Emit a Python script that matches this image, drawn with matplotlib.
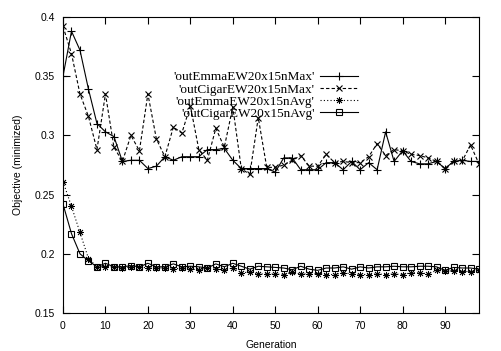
import numpy as np
import matplotlib
matplotlib.use("Agg")
import matplotlib.pyplot as plt

# generations sampled every 2 steps
generation = list(range(0, 100, 2))

emma_max = [0.350, 0.388, 0.372, 0.339, 0.310, 0.303, 0.299, 0.278, 0.279, 0.279,
            0.272, 0.274, 0.282, 0.279, 0.282, 0.282, 0.282, 0.288, 0.288, 0.289,
            0.279, 0.272, 0.272, 0.272, 0.272, 0.269, 0.281, 0.281, 0.271, 0.271,
            0.271, 0.277, 0.277, 0.271, 0.278, 0.271, 0.277, 0.271, 0.303, 0.278,
            0.287, 0.278, 0.276, 0.276, 0.278, 0.272, 0.278, 0.279, 0.278, 0.278]

cigar_max = [0.392, 0.369, 0.335, 0.316, 0.288, 0.335, 0.290, 0.278, 0.300, 0.287,
             0.335, 0.297, 0.282, 0.307, 0.302, 0.325, 0.288, 0.279, 0.306, 0.290,
             0.324, 0.272, 0.267, 0.315, 0.273, 0.273, 0.275, 0.279, 0.283, 0.274,
             0.274, 0.284, 0.277, 0.278, 0.277, 0.277, 0.282, 0.293, 0.283, 0.288,
             0.287, 0.284, 0.283, 0.281, 0.278, 0.272, 0.278, 0.278, 0.292, 0.276]

emma_avg = [0.261, 0.240, 0.218, 0.196, 0.189, 0.189, 0.189, 0.188, 0.189, 0.189,
            0.188, 0.188, 0.188, 0.187, 0.188, 0.187, 0.1865, 0.188, 0.187, 0.1865,
            0.188, 0.184, 0.1845, 0.183, 0.183, 0.183, 0.1825, 0.1845, 0.183, 0.183,
            0.183, 0.1825, 0.1825, 0.184, 0.183, 0.1825, 0.1825, 0.183, 0.1825, 0.183,
            0.1825, 0.184, 0.184, 0.183, 0.186, 0.1855, 0.1855, 0.185, 0.185, 0.186]

cigar_avg = [0.242, 0.217, 0.200, 0.194, 0.189, 0.192, 0.189, 0.189, 0.190, 0.189,
             0.192, 0.189, 0.189, 0.1915, 0.189, 0.1895, 0.189, 0.188, 0.1915, 0.189,
             0.192, 0.1895, 0.187, 0.1895, 0.189, 0.1885, 0.188, 0.1865, 0.1895, 0.187,
             0.186, 0.188, 0.188, 0.189, 0.187, 0.189, 0.188, 0.189, 0.189, 0.1895,
             0.189, 0.189, 0.1895, 0.1895, 0.189, 0.186, 0.1885, 0.188, 0.188, 0.187]

labels = ["'outEmmaEW20x15nMax'", "'outCigarEW20x15nMax'",
          "'outEmmaEW20x15nAvg'", "'outCigarEW20x15nAvg'"]

fig = plt.figure(figsize=(5.01, 3.51), dpi=100)
ax = fig.add_axes([63 / 501, 1 - 313 / 351, 416 / 501, 296 / 351])

lw = 0.8
ax.plot(generation, emma_max, color="black", lw=lw, ls="-", marker="+", ms=6, mew=0.8, label=labels[0])
ax.plot(generation, cigar_max, color="black", lw=lw, ls=(0, (3, 2)), marker="x", ms=4, mew=0.8, label=labels[1])
ax.plot(generation, emma_avg, color="black", lw=lw, ls=(0, (1, 2)), marker=(8, 2, 0), ms=5, mew=0.6, label=labels[2])
ax.plot(generation, cigar_avg, color="black", lw=lw, ls="-", marker="s", ms=4.5, mew=0.8, mfc="none", label=labels[3])

ax.set_xlim(0, 98)
ax.set_ylim(0.15, 0.4)
ax.set_xticks(range(0, 100, 10))
ax.set_yticks([0.15, 0.2, 0.25, 0.3, 0.35, 0.4])
ax.set_yticklabels(["0.15", "0.2", "0.25", "0.3", "0.35", "0.4"])
ax.tick_params(direction="in", top=True, right=True, length=5, width=0.8, labelsize=7.5, pad=6)
for s in ax.spines.values():
    s.set_linewidth(0.8)

for t in ax.get_xticklabels() + ax.get_yticklabels():
    t.set_family("Liberation Sans")

ax.set_xlabel("Generation", fontsize=7.5, family="Liberation Sans", labelpad=6)
ax.set_ylabel("Objective (minimized)", fontsize=7.5, family="Liberation Sans", labelpad=8)

leg = ax.legend(loc="upper right", bbox_to_anchor=(0.722, 0.835), frameon=False,
                markerfirst=False, handlelength=2.9, labelspacing=0.0,
                handletextpad=0.4, borderaxespad=0,
                prop={"family": "Liberation Serif", "size": 9.5})
for t in leg.get_texts():
    t.set_ha("right")

fig.savefig("out.png", dpi=100)
